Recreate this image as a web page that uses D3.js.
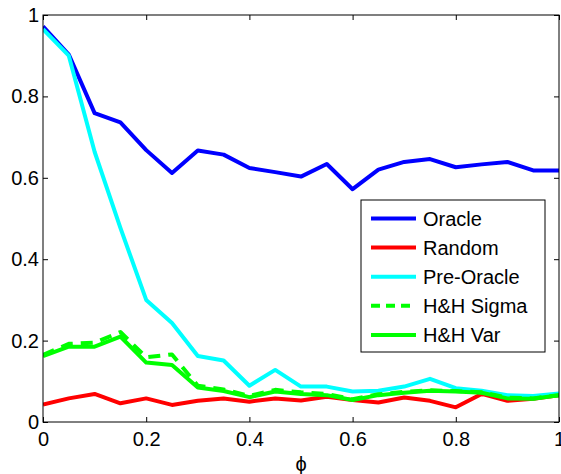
<!DOCTYPE html>
<html><head><meta charset="utf-8">
<script src="https://cdn.jsdelivr.net/npm/d3@7"></script>
<style>body{margin:0;background:#fff}svg{display:block}text{font-family:"Liberation Sans",Arial,sans-serif}</style>
</head><body>
<svg id="c" width="561" height="474"></svg>
<script>
const phi = [0,0.05,0.1,0.15,0.2,0.25,0.3,0.35,0.4,0.45,0.5,0.55,0.6,0.65,0.7,0.75,0.8,0.85,0.9,0.95,1];
const oracle    = [0.972,0.903,0.759,0.736,0.668,0.612,0.667,0.657,0.624,0.614,0.603,0.634,0.572,0.620,0.639,0.646,0.626,0.633,0.639,0.618,0.618];
const random    = [0.043,0.058,0.069,0.046,0.058,0.042,0.052,0.058,0.050,0.058,0.053,0.062,0.054,0.048,0.060,0.052,0.036,0.069,0.052,0.057,0.066];
const preOracle = [0.965,0.900,0.664,0.477,0.300,0.243,0.162,0.151,0.089,0.128,0.087,0.087,0.075,0.077,0.087,0.106,0.083,0.077,0.066,0.064,0.070];
const hhSigma   = [0.165,0.192,0.195,0.221,0.159,0.166,0.089,0.080,0.064,0.079,0.073,0.069,0.056,0.068,0.074,0.078,0.076,0.073,0.060,0.058,0.066];
const hhVar     = [0.162,0.185,0.185,0.210,0.146,0.140,0.085,0.076,0.061,0.075,0.069,0.066,0.054,0.066,0.072,0.077,0.075,0.072,0.058,0.057,0.066];
const xTicks = [0,0.2,0.4,0.6,0.8,1];
const yTicks = [0,0.2,0.4,0.6,0.8,1];
const series = [
  {name:"Oracle", values:oracle, color:"#0000ff", dash:null},
  {name:"Random", values:random, color:"#ff0000", dash:null},
  {name:"Pre-Oracle", values:preOracle, color:"#00ffff", dash:null},
  {name:"H&H Sigma", values:hhSigma, color:"#00ff00", dash:"12,8"},
  {name:"H&H Var", values:hhVar, color:"#00ff00", dash:null}
];

const svg = d3.select("#c");
const L=43, R=559, T=15, B=422;
const x = d3.scaleLinear().domain([0,1]).range([L,R]);
const y = d3.scaleLinear().domain([0,1]).range([B,T]);
const fs = 20;

svg.append("clipPath").attr("id","clp").append("rect")
  .attr("x",L).attr("y",T).attr("width",R-L).attr("height",B-T);

const line = d3.line().x((d,i)=>x(phi[i])).y(d=>y(d));
const g = svg.append("g").attr("clip-path","url(#clp)");
series.forEach(s=>{
  g.append("path").attr("d",line(s.values)).attr("fill","none")
    .attr("stroke",s.color).attr("stroke-width",4).attr("stroke-linejoin","round")
    .attr("stroke-dasharray",s.dash);
});

// axes (MATLAB box style, inward ticks)
const ax = svg.append("g");
ax.append("rect").attr("x",L).attr("y",T).attr("width",R-L).attr("height",B-T)
  .attr("fill","none").attr("stroke","#000").attr("stroke-width",1);
const axB = d3.axisBottom(x).tickValues(xTicks).tickSizeInner(-5).tickSizeOuter(0).tickPadding(10).tickFormat(d3.format("~g"));
const axT = d3.axisTop(x).tickValues(xTicks).tickSizeInner(-5).tickSizeOuter(0).tickFormat("");
const axL = d3.axisLeft(y).tickValues(yTicks).tickSizeInner(-5).tickSizeOuter(0).tickPadding(4).tickFormat(d3.format("~g"));
const axR = d3.axisRight(y).tickValues(yTicks).tickSizeInner(-5).tickSizeOuter(0).tickFormat("");
[[axB,`translate(0,${B})`],[axT,`translate(0,${T})`],[axL,`translate(${L},0)`],[axR,`translate(${R},0)`]].forEach(([a,t])=>{
  const gg = ax.append("g").attr("transform",t).call(a);
  gg.select(".domain").remove();
  gg.selectAll("line").attr("stroke","#000");
  gg.selectAll("text").attr("font-size",fs).attr("fill","#000").style("font-family",'"Liberation Sans",Arial,sans-serif');
});

svg.append("text").attr("x",x(0.5)).attr("y",471).attr("text-anchor","middle")
  .attr("font-size",fs).text("ϕ");

// legend
const lg = svg.append("g");
lg.append("rect").attr("x",361).attr("y",200).attr("width",184).attr("height",152)
  .attr("fill","#fff").attr("stroke","#000").attr("stroke-width",1);
series.forEach((s,i)=>{
  const yy = 218.5 + i*29.1;
  lg.append("line").attr("x1",371).attr("x2",416).attr("y1",yy).attr("y2",yy)
    .attr("stroke",s.color).attr("stroke-width",4).attr("stroke-dasharray",s.dash?"9,6":null);
  lg.append("text").attr("x",423).attr("y",yy).attr("dy","0.35em").attr("font-size",fs).text(s.name);
});
</script>
</body></html>
